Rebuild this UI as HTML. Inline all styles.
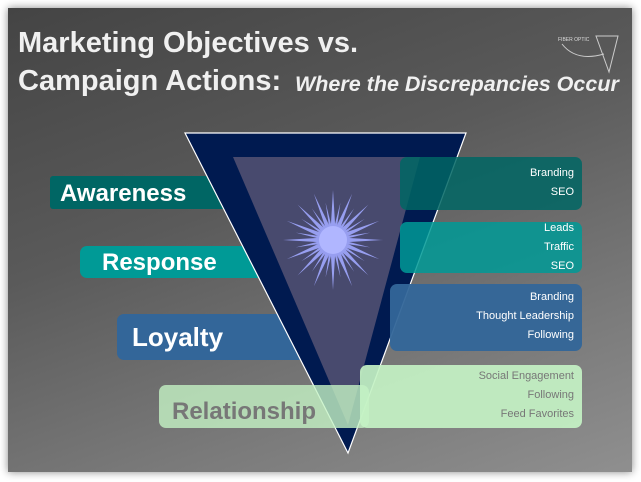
<!DOCTYPE html>
<html><head><style>
body{margin:0;width:641px;height:482px;background:#fff;overflow:hidden;position:relative;font-family:"Liberation Sans",sans-serif}
.slide{position:absolute;left:8px;top:8px;width:624px;height:464px;background:linear-gradient(160deg,#444 0%,#5a5a5a 40%,#7a7a7a 75%,#8f8f8f 100%);box-shadow:0 0 8px #888}
.t{position:absolute;color:#f0f0f0;font-weight:bold;white-space:nowrap}
.box{position:absolute;border-radius:7px}
.lbl{position:absolute;font-weight:bold;color:#fff;white-space:nowrap}
.r{position:absolute;right:0;text-align:right;font-size:11px;color:#fff;line-height:19px;white-space:nowrap}
</style></head><body>
<div class="slide"></div>
<div class="t" style="left:18px;top:27px;font-size:29px">Marketing Objectives vs.</div>
<div class="t" style="left:18px;top:65px;font-size:29px">Campaign Actions:</div>
<div class="t" style="left:295px;top:72px;font-size:21.5px;font-style:italic">Where the Discrepancies Occur</div>
<svg style="position:absolute;left:556px;top:32px" width="70" height="44"><text x="2" y="9" font-size="5" fill="#ddd" font-family="Liberation Sans">FIBER OPTIC</text><polygon points="40,4 62,4 53,40" fill="none" stroke="#ccc"/><path d="M6,12 Q20,30 48,22" stroke="#ccc" fill="none"/></svg>
<div class="box" style="left:50px;top:176px;width:220px;height:33px;background:#006664;border-radius:3px"></div>
<div class="box" style="left:80px;top:246px;width:200px;height:32px;background:#009a96"></div>
<div class="box" style="left:117px;top:314px;width:200px;height:46px;background:#336699"></div>
<svg style="position:absolute;left:0;top:0" width="641" height="482">
<polygon points="185,133 466,133 348,453" fill="#001a50" stroke="#fff" stroke-width="1.2"/>
<polygon points="233,157 420,157 348,425" fill="#484a6e"/>
<g transform="translate(333,240)" fill="#a0a8ff" opacity="0.9">
<polygon points="-3,0 0,-50 3,0 0,50"/>
<polygon points="-3,0 0,-50 3,0 0,50" transform="rotate(22.5)"/>
<polygon points="-3,0 0,-50 3,0 0,50" transform="rotate(45)"/>
<polygon points="-3,0 0,-50 3,0 0,50" transform="rotate(67.5)"/>
<polygon points="-3,0 0,-50 3,0 0,50" transform="rotate(90)"/>
<polygon points="-3,0 0,-50 3,0 0,50" transform="rotate(112.5)"/>
<polygon points="-3,0 0,-50 3,0 0,50" transform="rotate(135)"/>
<polygon points="-3,0 0,-50 3,0 0,50" transform="rotate(157.5)"/>
<polygon points="-2,0 0,-38 2,0 0,38" transform="rotate(11.25)"/>
<polygon points="-2,0 0,-38 2,0 0,38" transform="rotate(33.75)"/>
<polygon points="-2,0 0,-38 2,0 0,38" transform="rotate(56.25)"/>
<polygon points="-2,0 0,-38 2,0 0,38" transform="rotate(78.75)"/>
<polygon points="-2,0 0,-38 2,0 0,38" transform="rotate(101.25)"/>
<polygon points="-2,0 0,-38 2,0 0,38" transform="rotate(123.75)"/>
<polygon points="-2,0 0,-38 2,0 0,38" transform="rotate(146.25)"/>
<polygon points="-2,0 0,-38 2,0 0,38" transform="rotate(168.75)"/>
</g>
<circle cx="333" cy="240" r="14" fill="#b0b6ff"/>
</svg>
<div class="box" style="left:400px;top:157px;width:182px;height:53px;background:rgba(0,102,100,0.85)"><div class="r" style="right:8px;top:7px">Branding<br>SEO</div></div>
<div class="box" style="left:400px;top:222px;width:182px;height:51px;background:rgba(0,154,150,0.85)"><div class="r" style="right:8px;top:-3px">Leads<br>Traffic<br>SEO</div></div>
<div class="box" style="left:390px;top:284px;width:192px;height:67px;background:rgba(51,102,153,0.95)"><div class="r" style="right:8px;top:4px">Branding<br>Thought Leadership<br>Following</div></div>
<div class="box" style="left:159px;top:385px;width:210px;height:43px;background:rgba(196,242,196,0.8)"></div>
<div class="box" style="left:360px;top:365px;width:222px;height:63px;background:rgba(196,242,196,0.92)"><div class="r" style="right:8px;top:2px;color:#777">Social Engagement<br>Following<br>Feed Favorites</div></div>
<div class="lbl" style="left:60px;top:180px;font-size:24px">Awareness</div>
<div class="lbl" style="left:102px;top:249px;font-size:24px">Response</div>
<div class="lbl" style="left:132px;top:322px;font-size:26px">Loyalty</div>
<div class="lbl" style="left:172px;top:398px;font-size:24px;color:#777">Relationship</div>
</body></html>
